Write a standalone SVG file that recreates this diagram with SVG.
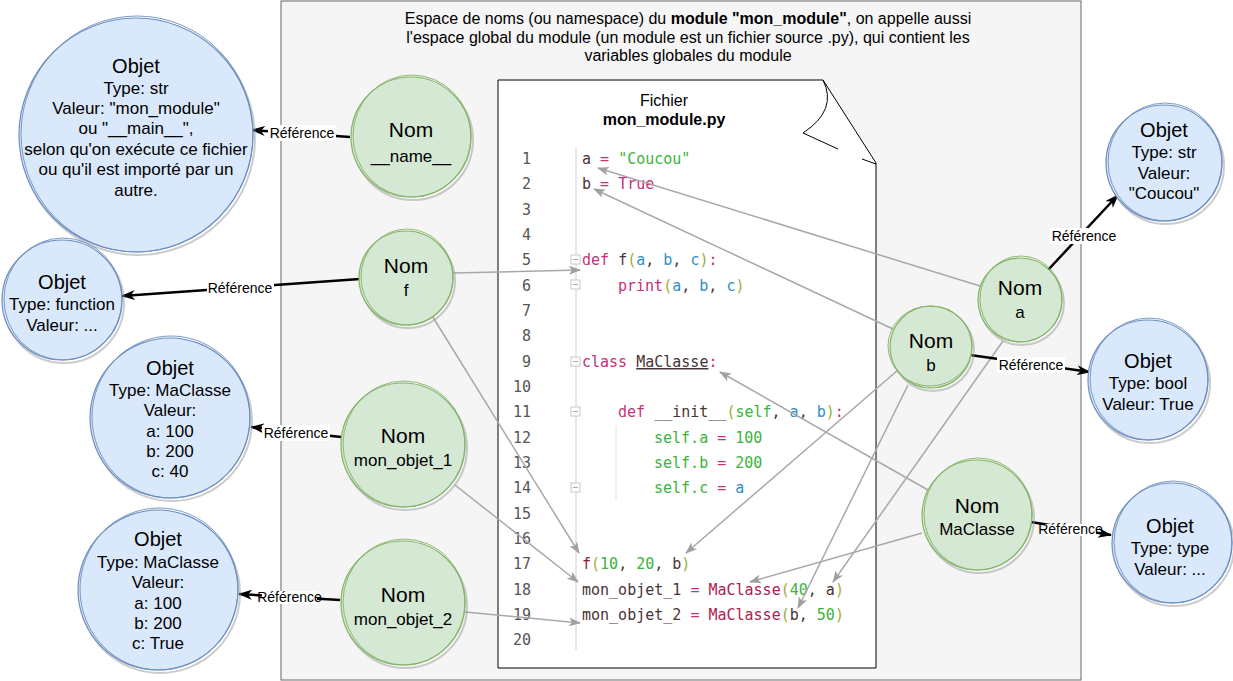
<svg xmlns="http://www.w3.org/2000/svg" width="1233" height="681" viewBox="0 0 1233 681">
<defs>
<marker id="blk" viewBox="0 0 14 10" refX="13" refY="5" markerWidth="14" markerHeight="10" markerUnits="userSpaceOnUse" orient="auto">
<path d="M0,0 L14,5 L0,10 L4,5 z" fill="#000"/>
</marker>
<marker id="gry" viewBox="0 0 12 9" refX="11" refY="4.5" markerWidth="12" markerHeight="9" markerUnits="userSpaceOnUse" orient="auto">
<path d="M0,0 L12,4.5 L0,9 L3,4.5 z" fill="#a0a0a0"/>
</marker>
</defs>
<style>
.t{font-family:"Liberation Sans",Arial,sans-serif;fill:#000;text-anchor:middle}
.h{font-size:20px}
.n{font-size:21px}
.s{font-size:17px}
.top{font-size:16px}
.ref{font-size:14px}
.shadow{fill:none;stroke:#999;stroke-width:2;opacity:0.5}
.gn{fill:#d5e8d4;stroke:#82b366;stroke-width:1.2}
.gn2{fill:none;stroke:#82b366;stroke-width:0.9}
.bl{fill:#dae8fc;stroke:#6c8ebf;stroke-width:1.2}
.bl2{fill:none;stroke:#6c8ebf;stroke-width:0.9}
.rl{stroke:#000;stroke-width:2.5;fill:none;marker-end:url(#blk)}
.gl{stroke:#a8a8a8;stroke-width:1.5;fill:none;marker-end:url(#gry)}
.lb{fill:#fff}
.code{font-family:"DejaVu Sans Mono","Liberation Mono",monospace;font-size:15px;white-space:pre}
.ln{fill:#555;text-anchor:end}
.id{fill:#4a3535}
.kw{fill:#c5307a}
.st{fill:#3cb33c}
.pa{fill:#2f8fc6}
.pr{fill:#a0ad3a}
.fn{fill:#8b1c2c}
.cl{fill:#b0204f}
.fold{fill:#fff;stroke:#c8c8c8;stroke-width:1}
</style>

<g id="namespace">
<rect x="281" y="1" width="800" height="679" fill="#f5f5f5" stroke="#666" stroke-width="1"/>
<text class="t top" x="688" y="24">Espace de noms (ou namespace) du <tspan font-weight="bold">module "mon_module"</tspan>, on appelle aussi</text>
<text class="t top" x="688" y="43">l'espace global du module (un module est un fichier source .py), qui contient les</text>
<text class="t top" x="688" y="61">variables globales du module</text>
</g>

<g id="fichier">
<path d="M498,80 L823,80 L876,163 L876,668 L498,668 Z" fill="#fff" stroke="#000" stroke-width="1"/>
<path d="M823,80 Q838,110 803,133 L838,149" fill="none" stroke="#000" stroke-width="1"/>
<path d="M862,159 L876,164" fill="none" stroke="#000" stroke-width="1"/>
<text class="t" font-size="16" x="664" y="106">Fichier</text>
<text class="t" font-size="16" font-weight="bold" x="664" y="125">mon_module.py</text>
<line x1="576" y1="148" x2="576" y2="650" stroke="#cfcfcf" stroke-width="1"/>
<line x1="616" y1="426" x2="616" y2="500" stroke="#e2e2e2" stroke-width="1"/>
<rect class="fold" x="571" y="255" width="9" height="9"/><line x1="573" y1="259.5" x2="578" y2="259.5" stroke="#aaa"/>
<rect class="fold" x="571" y="280" width="9" height="9"/><line x1="573" y1="284.5" x2="578" y2="284.5" stroke="#aaa"/>
<rect class="fold" x="571" y="357" width="9" height="9"/><line x1="573" y1="361.5" x2="578" y2="361.5" stroke="#aaa"/>
<rect class="fold" x="571" y="407" width="9" height="9"/><line x1="573" y1="411.5" x2="578" y2="411.5" stroke="#aaa"/>
<rect class="fold" x="571" y="483" width="9" height="9"/><line x1="573" y1="487.5" x2="578" y2="487.5" stroke="#aaa"/>
<g class="code ln">
<text x="531" y="164">1</text>
<text x="531" y="189">2</text>
<text x="531" y="215">3</text>
<text x="531" y="240">4</text>
<text x="531" y="265">5</text>
<text x="531" y="291">6</text>
<text x="531" y="316">7</text>
<text x="531" y="341">8</text>
<text x="531" y="367">9</text>
<text x="531" y="392">10</text>
<text x="531" y="417">11</text>
<text x="531" y="443">12</text>
<text x="531" y="468">13</text>
<text x="531" y="493">14</text>
<text x="531" y="519">15</text>
<text x="531" y="544">16</text>
<text x="531" y="569">17</text>
<text x="531" y="595">18</text>
<text x="531" y="620">19</text>
<text x="531" y="645">20</text>
</g>
<text class="code" x="582" y="164"><tspan class="id">a</tspan> <tspan class="kw">=</tspan> <tspan class="st">"Coucou"</tspan></text>
<text class="code" x="582" y="189"><tspan class="id">b</tspan> <tspan class="kw">=</tspan> <tspan class="kw">True</tspan></text>
<text class="code" x="582" y="265"><tspan class="kw">def</tspan> <tspan class="id">f</tspan><tspan class="pr">(</tspan><tspan class="pa">a</tspan><tspan class="id">, </tspan><tspan class="pa">b</tspan><tspan class="id">, </tspan><tspan class="pa">c</tspan><tspan class="pr">)</tspan><tspan class="kw">:</tspan></text>
<text class="code" x="618" y="291"><tspan class="kw">print</tspan><tspan class="pr">(</tspan><tspan class="pa">a</tspan><tspan class="id">, </tspan><tspan class="pa">b</tspan><tspan class="id">, </tspan><tspan class="pa">c</tspan><tspan class="pr">)</tspan></text>
<text class="code" x="582" y="367"><tspan class="kw">class</tspan> <tspan class="id" text-decoration="underline">MaClasse</tspan><tspan class="kw">:</tspan></text>
<text class="code" x="618" y="417"><tspan class="kw">def</tspan> <tspan class="id">__init__</tspan><tspan class="pr">(</tspan><tspan class="st">self</tspan><tspan class="id">, </tspan><tspan class="pa">a</tspan><tspan class="id">, </tspan><tspan class="pa">b</tspan><tspan class="pr">)</tspan><tspan class="kw">:</tspan></text>
<text class="code" x="654" y="443"><tspan class="st">self.a</tspan> <tspan class="kw">=</tspan> <tspan class="st">100</tspan></text>
<text class="code" x="654" y="468"><tspan class="st">self.b</tspan> <tspan class="kw">=</tspan> <tspan class="st">200</tspan></text>
<text class="code" x="654" y="493"><tspan class="st">self.c</tspan> <tspan class="kw">=</tspan> <tspan class="pa">a</tspan></text>
<text class="code" x="582" y="569"><tspan class="fn">f</tspan><tspan class="pr">(</tspan><tspan class="st">10</tspan><tspan class="id">, </tspan><tspan class="st">20</tspan><tspan class="id">, b</tspan><tspan class="pr">)</tspan></text>
<text class="code" x="582" y="595"><tspan class="id">mon_objet_1</tspan> <tspan class="kw">=</tspan> <tspan class="cl">MaClasse</tspan><tspan class="pr">(</tspan><tspan class="st">40</tspan><tspan class="id">, a</tspan><tspan class="pr">)</tspan></text>
<text class="code" x="582" y="620"><tspan class="id">mon_objet_2</tspan> <tspan class="kw">=</tspan> <tspan class="cl">MaClasse</tspan><tspan class="pr">(</tspan><tspan class="id">b, </tspan><tspan class="st">50</tspan><tspan class="pr">)</tspan></text>
</g>

<g id="connectors">
<line class="gl" x1="980" y1="286" x2="598" y2="168"/>
<line class="gl" x1="893" y1="329" x2="594" y2="189"/>
<line class="gl" x1="453" y1="273" x2="580" y2="270"/>
<line class="gl" x1="431" y1="314" x2="579" y2="553"/>
<line class="gl" x1="898" y1="370" x2="686" y2="553"/>
<line class="gl" x1="908" y1="385" x2="798" y2="608"/>
<line class="gl" x1="1003" y1="341" x2="833" y2="582"/>
<line class="gl" x1="928" y1="490" x2="720" y2="372"/>
<line class="gl" x1="922" y1="533" x2="750" y2="582"/>
<line class="gl" x1="455" y1="485" x2="578" y2="582"/>
<line class="gl" x1="465" y1="612" x2="580" y2="623"/>

<line class="rl" x1="350" y1="137" x2="252" y2="130"/>
<rect class="lb" x="268" y="125" width="68" height="16"/>
<text class="t ref" x="302" y="138">Référence</text>

<line class="rl" x1="360" y1="279" x2="122" y2="296"/>
<rect class="lb" x="207" y="280" width="67" height="16"/>
<text class="t ref" x="240" y="293">Référence</text>

<line class="rl" x1="341" y1="437" x2="251" y2="427"/>
<rect class="lb" x="262" y="425" width="68" height="16"/>
<text class="t ref" x="296" y="438">Référence</text>

<line class="rl" x1="340" y1="600" x2="239" y2="594"/>
<rect class="lb" x="262" y="591" width="55" height="13"/>
<text class="t ref" x="289.5" y="602" font-size="11">Référence</text>

<line class="rl" x1="1048" y1="270" x2="1118" y2="195"/>
<rect class="lb" x="1050" y="228" width="68" height="16"/>
<text class="t ref" x="1084" y="241">Référence</text>

<line class="rl" x1="970" y1="355" x2="1090" y2="372"/>
<rect class="lb" x="997" y="357" width="68" height="16"/>
<text class="t ref" x="1031" y="370">Référence</text>

<line class="rl" x1="1031" y1="522" x2="1111" y2="535"/>
<rect class="lb" x="1045" y="524" width="51" height="12"/>
<text class="t ref" x="1070.5" y="534" font-size="10.5">Référence</text>
</g>

<g id="nom-name">
<circle class="shadow" cx="413" cy="140" r="60"/>
<circle class="gn" cx="411" cy="137" r="60"/>
<ellipse class="gn2" cx="412" cy="136" rx="59" ry="61"/>
<text class="t n" x="411" y="137">Nom</text>
<text class="t s" x="411" y="162">__name__</text>
</g>
<g id="nom-f">
<circle class="shadow" cx="408" cy="281" r="47"/>
<circle class="gn" cx="406" cy="278" r="47"/>
<ellipse class="gn2" cx="407" cy="277" rx="46" ry="48"/>
<text class="t n" x="406" y="273">Nom</text>
<text class="t s" x="406" y="296">f</text>
</g>
<g id="nom-mon_objet_1">
<circle class="shadow" cx="405" cy="448" r="62"/>
<circle class="gn" cx="403" cy="445" r="62"/>
<ellipse class="gn2" cx="404" cy="444" rx="61" ry="63"/>
<text class="t n" x="403" y="443">Nom</text>
<text class="t s" x="403" y="466">mon_objet_1</text>
</g>
<g id="nom-mon_objet_2">
<circle class="shadow" cx="405" cy="606" r="62"/>
<circle class="gn" cx="403" cy="603" r="62"/>
<ellipse class="gn2" cx="404" cy="602" rx="61" ry="63"/>
<text class="t n" x="403" y="602">Nom</text>
<text class="t s" x="403" y="625">mon_objet_2</text>
</g>
<g id="nom-a">
<circle class="shadow" cx="1022" cy="303" r="42"/>
<circle class="gn" cx="1020" cy="300" r="42"/>
<ellipse class="gn2" cx="1021" cy="299" rx="41" ry="43"/>
<text class="t n" x="1020" y="295">Nom</text>
<text class="t s" x="1020" y="318">a</text>
</g>
<g id="nom-b">
<circle class="shadow" cx="933" cy="350" r="41"/>
<circle class="gn" cx="931" cy="347" r="41"/>
<ellipse class="gn2" cx="930" cy="346" rx="42" ry="40"/>
<text class="t n" x="931" y="348">Nom</text>
<text class="t s" x="931" y="371">b</text>
</g>
<g id="nom-MaClasse">
<circle class="shadow" cx="979" cy="518" r="55"/>
<circle class="gn" cx="977" cy="515" r="55"/>
<ellipse class="gn2" cx="978" cy="514" rx="54" ry="56"/>
<text class="t n" x="977" y="513">Nom</text>
<text class="t s" x="977" y="535">MaClasse</text>
</g>

<g id="obj-name">
<circle class="shadow" cx="138" cy="138" r="117"/>
<circle class="bl" cx="136" cy="135" r="117"/>
<ellipse class="bl2" cx="137" cy="134" rx="116" ry="118"/>
<text class="t h" x="136" y="73">Objet</text>
<text class="t s" x="136" y="94">Type: str</text>
<text class="t s" x="136" y="114">Valeur: "mon_module"</text>
<text class="t s" x="136" y="134">ou "__main__",</text>
<text class="t s" x="136" y="155">selon qu'on exécute ce fichier</text>
<text class="t s" x="136" y="175">ou qu'il est importé par un</text>
<text class="t s" x="136" y="196">autre.</text>
</g>
<g id="obj-function">
<circle class="shadow" cx="64" cy="303" r="60"/>
<circle class="bl" cx="62" cy="300" r="60"/>
<ellipse class="bl2" cx="63" cy="299" rx="59" ry="61"/>
<text class="t h" x="62" y="289">Objet</text>
<text class="t s" x="62" y="310">Type: function</text>
<text class="t s" x="62" y="331">Valeur: ...</text>
</g>
<g id="obj-mon_objet_1">
<circle class="shadow" cx="172" cy="421" r="80"/>
<circle class="bl" cx="170" cy="418" r="80"/>
<ellipse class="bl2" cx="171" cy="417" rx="79" ry="81"/>
<text class="t h" x="170" y="375">Objet</text>
<text class="t s" x="170" y="396">Type: MaClasse</text>
<text class="t s" x="170" y="416">Valeur:</text>
<text class="t s" x="170" y="437">a: 100</text>
<text class="t s" x="170" y="457">b: 200</text>
<text class="t s" x="170" y="477">c: 40</text>
</g>
<g id="obj-mon_objet_2">
<circle class="shadow" cx="160" cy="593" r="80"/>
<circle class="bl" cx="158" cy="590" r="80"/>
<ellipse class="bl2" cx="159" cy="589" rx="79" ry="81"/>
<text class="t h" x="158" y="546">Objet</text>
<text class="t s" x="158" y="568">Type: MaClasse</text>
<text class="t s" x="158" y="588">Valeur:</text>
<text class="t s" x="158" y="609">a: 100</text>
<text class="t s" x="158" y="629">b: 200</text>
<text class="t s" x="158" y="649">c: True</text>
</g>
<g id="obj-coucou">
<circle class="shadow" cx="1166" cy="166" r="58"/>
<circle class="bl" cx="1164" cy="163" r="58"/>
<ellipse class="bl2" cx="1165" cy="162" rx="57" ry="59"/>
<text class="t h" x="1164" y="137">Objet</text>
<text class="t s" x="1164" y="158">Type: str</text>
<text class="t s" x="1164" y="179">Valeur:</text>
<text class="t s" x="1164" y="199">"Coucou"</text>
</g>
<g id="obj-bool">
<circle class="shadow" cx="1150" cy="383" r="60"/>
<circle class="bl" cx="1148" cy="380" r="60"/>
<ellipse class="bl2" cx="1149" cy="379" rx="59" ry="61"/>
<text class="t h" x="1148" y="368">Objet</text>
<text class="t s" x="1148" y="389">Type: bool</text>
<text class="t s" x="1148" y="410">Valeur: True</text>
</g>
<g id="obj-type">
<circle class="shadow" cx="1174" cy="546" r="60"/>
<circle class="bl" cx="1172" cy="543" r="60"/>
<ellipse class="bl2" cx="1173" cy="542" rx="59" ry="61"/>
<text class="t h" x="1170" y="533">Objet</text>
<text class="t s" x="1170" y="554">Type: type</text>
<text class="t s" x="1170" y="575">Valeur: ...</text>
</g>
</svg>
